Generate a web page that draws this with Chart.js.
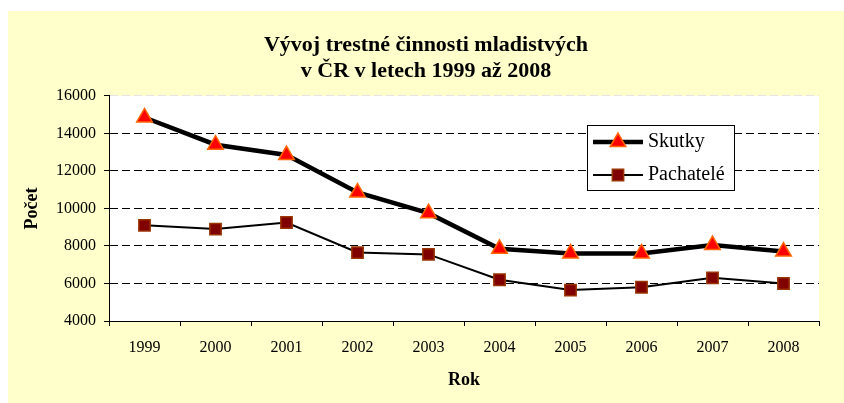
<!DOCTYPE html>
<html>
<head>
<meta charset="utf-8">
<script src="https://cdn.jsdelivr.net/npm/chart.js@4.4.1/dist/chart.umd.min.js"></script>
<style>
  html, body { margin: 0; padding: 0; background: #fff; }
</style>
</head>
<body>
<canvas id="chart" width="844" height="403"></canvas>
<script>
const years = ['1999', '2000', '2001', '2002', '2003', '2004', '2005', '2006', '2007', '2008'];
const skutky = [14850, 13400, 12850, 10850, 9750, 7850, 7600, 7600, 8050, 7700];
const pachatele = [9100, 8900, 9250, 7650, 7550, 6200, 5650, 5800, 6300, 6000];
const yTicks = [4000, 6000, 8000, 10000, 12000, 14000, 16000];
const titleLines = ['Vývoj trestné činnosti mladistvých', 'v ČR v letech 1999 až 2008'];

const serif = "'Liberation Serif', 'Times New Roman', serif";

// yellow frame + white plot area behind everything
const background = {
  id: 'background',
  beforeDraw(chart) {
    const {ctx, width, height, chartArea: a} = chart;
    ctx.save();
    ctx.fillStyle = '#fff';
    ctx.fillRect(0, 0, width, height);
    ctx.fillStyle = '#FFFFCC';
    ctx.fillRect(8, 11, width - 8, height - 11);
    ctx.fillStyle = '#fff';
    ctx.fillRect(a.left, a.top, a.right - a.left, a.bottom - a.top);
    ctx.restore();
  }
};

// boxed legend inside the plot, like the Excel one
const boxLegend = {
  id: 'boxLegend',
  afterDraw(chart) {
    const ctx = chart.ctx;
    const x = 587, y = 125, w = 147, h = 65, rowH = 33;
    ctx.save();
    ctx.fillStyle = '#fff';
    ctx.fillRect(x, y, w, h);
    ctx.strokeStyle = '#000';
    ctx.lineWidth = 1;
    ctx.strokeRect(x + 0.5, y + 0.5, w, h);
    chart.data.datasets.forEach((ds, i) => {
      const cy = y + 17 + i * rowH;
      ctx.beginPath();
      ctx.strokeStyle = ds.borderColor;
      ctx.lineWidth = ds.borderWidth;
      ctx.moveTo(x + 6, cy);
      ctx.lineTo(x + 56, cy);
      ctx.stroke();
      ctx.fillStyle = ds.pointBackgroundColor;
      ctx.strokeStyle = ds.pointBorderColor;
      ctx.lineWidth = ds.pointBorderWidth;
      Chart.helpers.drawPoint(ctx, {
        pointStyle: ds.pointStyle, radius: ds.pointRadius,
        borderWidth: ds.pointBorderWidth, rotation: 0
      }, x + 31, cy);
      ctx.fillStyle = '#000';
      ctx.font = '20px ' + serif;
      ctx.textBaseline = 'middle';
      ctx.textAlign = 'left';
      ctx.fillText(ds.label, x + 61, cy);
    });
    ctx.restore();
  }
};

new Chart(document.getElementById('chart'), {
  type: 'line',
  data: {
    labels: years,
    datasets: [
      {
        label: 'Skutky',
        data: skutky,
        borderColor: '#000',
        borderWidth: 4.5,
        pointStyle: 'triangle',
        pointRadius: 9,
        pointBackgroundColor: '#FF0000',
        pointBorderColor: '#FF6600',
        pointBorderWidth: 1.5,
        tension: 0,
        fill: false
      },
      {
        label: 'Pachatelé',
        data: pachatele,
        borderColor: '#000',
        borderWidth: 2,
        pointStyle: 'rect',
        pointRadius: 8,
        pointBackgroundColor: '#800000',
        pointBorderColor: '#993300',
        pointBorderWidth: 1.5,
        tension: 0,
        fill: false
      }
    ]
  },
  options: {
    responsive: false,
    animation: false,
    events: [],
    layout: { padding: { top: 11, left: 8, right: 0, bottom: 0 } },
    plugins: {
      legend: { display: false },
      tooltip: { enabled: false },
      title: {
        display: true,
        text: titleLines,
        color: '#000',
        font: { family: serif, size: 22, weight: 'bold', lineHeight: 1.18 },
        padding: { top: 21, bottom: 12 }
      }
    },
    scales: {
      x: {
        offset: true,
        grid: {
          offset: true,
          drawOnChartArea: false,
          tickLength: 5,
          color: '#000',
          tickColor: '#000'
        },
        border: { color: '#000', width: 1 },
        ticks: { color: '#000', font: { family: serif, size: 16 }, padding: 12, maxRotation: 0 },
        title: {
          display: true,
          text: 'Rok',
          color: '#000',
          font: { family: serif, size: 18, weight: 'bold' },
          padding: { top: 0, bottom: 12 }
        },
        afterFit(s) { s.height = 82; }
      },
      y: {
        min: 4000,
        max: 16000,
        afterBuildTicks(s) { s.ticks = yTicks.map(v => ({ value: v })); },
        ticks: {
          color: '#000',
          font: { family: serif, size: 16 },
          padding: 8,
          callback: v => String(v)
        },
        grid: {
          color: c => (c.tick && c.tick.value === 16000) ? '#e4e4e4' : '#000',
          tickColor: '#000',
          tickLength: 5,
          lineWidth: 1
        },
        border: { color: '#000', width: 1, dash: [8, 4] },
        title: {
          display: true,
          text: 'Počet',
          color: '#000',
          font: { family: serif, size: 18, weight: 'bold' },
          padding: { top: 14, bottom: 0 }
        },
        afterFit(s) { s.width = 101; }
      },
      right: {
        position: 'right',
        display: true,
        grid: { display: false, drawTicks: false },
        border: { display: false },
        ticks: { display: false },
        afterFit(s) { s.width = 25; }
      }
    }
  },
  plugins: [background, boxLegend]
});
</script>
</body>
</html>
